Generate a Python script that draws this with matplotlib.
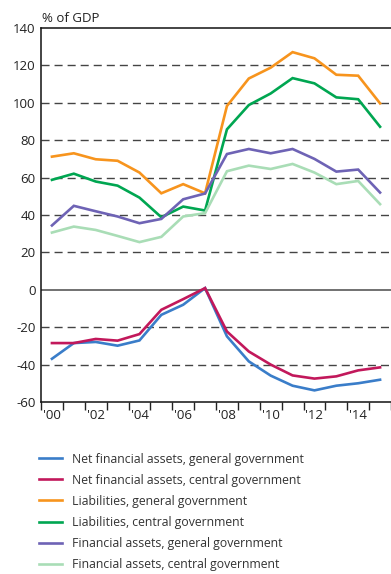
import numpy as np
import matplotlib
matplotlib.use('Agg')
import matplotlib.pyplot as plt

plt.rcParams['font.family'] = ['Open Sans', 'DejaVu Sans']

# Years 2000-2015
years = list(range(2000, 2016))
tick_labels = ["'00", "'02", "'04", "'06", "'08", "'10", "'12", "'14"]

# Series values, % of GDP
net_general = [-36.9, -28.5, -27.9, -29.9, -27.1, -13.4, -8.0, 0.9,
               -24.9, -38.3, -45.9, -51.3, -53.8, -51.3, -50.0, -48.1]
net_central = [-28.5, -28.5, -26.3, -27.2, -23.7, -10.7, -5.0, 0.9,
               -22.3, -33.0, -40.0, -45.8, -47.5, -46.3, -43.1, -41.5]
liab_general = [71.2, 73.0, 69.8, 69.0, 62.7, 51.6, 56.5, 51.6,
                98.3, 113.0, 118.8, 127.1, 123.8, 115.0, 114.5, 99.7]
liab_central = [58.8, 62.1, 57.9, 55.7, 49.3, 38.8, 44.5, 42.4,
                85.8, 98.8, 105.0, 113.2, 110.4, 102.9, 101.9, 87.2]
fin_general = [34.4, 44.9, 42.0, 39.2, 35.6, 37.9, 48.4, 51.5,
               72.6, 75.3, 73.0, 75.3, 70.0, 63.2, 64.3, 52.0]
fin_central = [30.6, 33.8, 32.0, 28.8, 25.5, 28.3, 39.2, 41.0,
               63.4, 66.4, 64.6, 67.3, 62.7, 56.5, 58.2, 45.8]

series = [
    ('Net financial assets, general government', net_general, '#3A7DC9'),
    ('Net financial assets, central government', net_central, '#C2185B'),
    ('Liabilities, general government', liab_general, '#F7941D'),
    ('Liabilities, central government', liab_central, '#00A651'),
    ('Financial assets, general government', fin_general, '#6E63B5'),
    ('Financial assets, central government', fin_central, '#A9DDB6'),
]

fig = plt.figure(figsize=(3.91, 5.74), dpi=100)
ax = fig.add_axes([0.1049, 0.2997, 0.8951, 0.6515])

x = np.arange(len(years))

# dashed grid lines and solid zero line
for v in [120, 100, 80, 60, 40, 20, -20, -40]:
    ax.axhline(v, color='#444444', lw=1.0, ls=(0, (5.8, 3.6)), zorder=1)
ax.axhline(0, color='#666666', lw=1.3, zorder=1)

for label, vals, col in series:
    ax.plot(x, vals, color=col, lw=1.9, label=label, zorder=3, solid_joinstyle='miter')

ax.set_xlim(-0.5, 15.5)
ax.set_ylim(-60, 140)
ax.set_yticks(range(-60, 141, 20))
ax.set_yticklabels([str(v) for v in range(-60, 141, 20)])
ax.tick_params(axis='y', length=0, pad=4, labelsize=9.5, labelcolor='#222222')

# x: ticks at year boundaries, labels centred on even years
ax.set_xticks(np.arange(-0.5, 15.6, 1))
ax.set_xticklabels([])
ax.tick_params(axis='x', which='major', direction='out', length=6, width=1, color='#222222')
ax.set_xticks(np.arange(0, 16, 2), minor=True)
ax.set_xticklabels(tick_labels, minor=True)
ax.tick_params(axis='x', which='minor', length=0, pad=5, labelsize=9.5, labelcolor='#222222')

ax.spines['right'].set_visible(False)
for s in ['left', 'top', 'bottom']:
    ax.spines[s].set_color('#111111')
    ax.spines[s].set_linewidth(1.1)

fig.text(0.107, 0.968, '% of GDP', fontsize=9.5, color='#222222', va='center', ha='left')

fig.legend(loc='upper left', bbox_to_anchor=(0.087, 0.220), frameon=False,
           fontsize=8.8, handlelength=1.9, handletextpad=0.8, labelspacing=0.66,
           labelcolor='#333333', borderaxespad=0)

fig.savefig('out.png', dpi=100)
